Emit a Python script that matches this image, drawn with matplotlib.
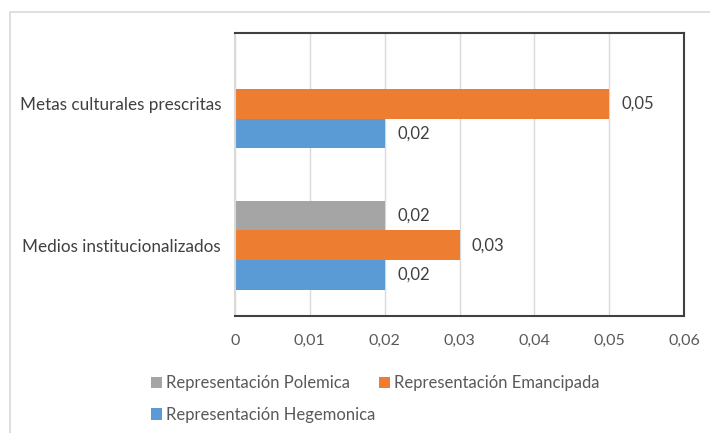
import matplotlib
matplotlib.use("Agg")
import matplotlib.pyplot as plt
from matplotlib.patches import Rectangle
import numpy as np

# Data
categories = ["Medios institucionalizados", "Metas culturales prescritas"]
series_names = ["Representación Polemica", "Representación Emancipada", "Representación Hegemonica"]
polemica = [0.02, None]
emancipada = [0.03, 0.05]
hegemonica = [0.02, 0.02]
x_ticks = [0, 0.01, 0.02, 0.03, 0.04, 0.05, 0.06]
x_tick_labels = ["0", "0,01", "0,02", "0,03", "0,04", "0,05", "0,06"]

COLORS = ["#A5A5A5", "#ED7D31", "#5B9BD5"]
TEXT = "#595959"

plt.rcParams['font.family'] = ['Lato', 'DejaVu Sans']

fig = plt.figure(figsize=(7.10, 4.33), dpi=100)
ax = fig.add_axes([235 / 710, 1 - 316 / 433, 449 / 710, 283 / 433])

# outer chart border (only top and left visible)
fig.patches.append(Rectangle((10 / 710, -0.1), 1.2, 1 - 12 / 433 + 0.1, transform=fig.transFigure,
                             fill=False, edgecolor="#D9D9D9", linewidth=1.2))

y = np.arange(len(categories))
h = 0.21
offsets = [h, 0, -h]
handles = []
for vals, off, col, name in zip([polemica, emancipada, hegemonica], offsets, COLORS, series_names):
    ys = [yy + off for yy, v in zip(y, vals) if v is not None]
    xs = [v for v in vals if v is not None]
    bars = ax.barh(ys, xs, height=h, color=col, label=name)
    handles.append(bars)
    for b, v in zip(bars, xs):
        ax.annotate(f"{v:.2f}".replace(".", ","), (b.get_width(), b.get_y() + b.get_height() / 2),
                    xytext=(9, 0), textcoords="offset points", va="center", ha="left",
                    fontsize=12, color="#404040")

ax.set_xlim(0, 0.06)
ax.set_ylim(-0.5, 1.5)
ax.set_yticks(y)
ax.set_yticklabels(categories, fontsize=12.3, color="#404040")
ax.set_xticks(x_ticks)
ax.set_xticklabels(x_tick_labels, fontsize=11.5, color=TEXT)
ax.tick_params(axis="both", length=0)
ax.tick_params(axis="x", pad=13)
ax.tick_params(axis="y", pad=10)
ax.grid(axis="x", color="#D9D9D9", linewidth=1)
ax.set_axisbelow(True)
for side in ["top", "right", "bottom"]:
    ax.spines[side].set_color("#404040")
    ax.spines[side].set_linewidth(1.5)
ax.spines["left"].set_color("#D9D9D9")
ax.spines["left"].set_linewidth(1.5)

# legend filled column-wise, so order P, H, E gives rows (P, E) and (H)
order = [0, 2, 1]
fig.legend([handles[i] for i in order], [series_names[i] for i in order],
           loc="upper left", bbox_to_anchor=(136 / 710, 1 - 360 / 433), ncol=2, frameon=False,
           fontsize=12, labelcolor=TEXT, handlelength=0.65, handleheight=0.65,
           handletextpad=0.25, columnspacing=0.2, labelspacing=0.95)

fig.savefig("out.png", dpi=100)
